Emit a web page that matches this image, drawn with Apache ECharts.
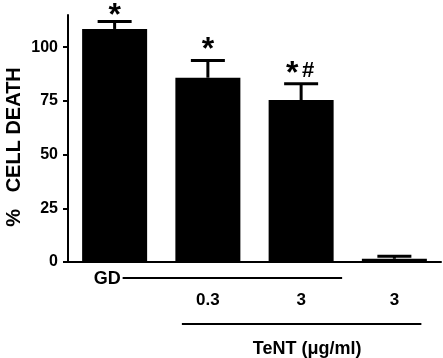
<!DOCTYPE html>
<html>
<head>
<meta charset="utf-8">
<script src="https://cdn.jsdelivr.net/npm/echarts@6/dist/echarts.min.js"></script>
<style>
  html, body { margin: 0; padding: 0; background: #fff; }
  #chart { width: 443px; height: 358px; }
</style>
</head>
<body>
<div id="chart"></div>
<script>
// values
var tickLabels = ['', '0.3', '3', '3']
var cellDeath = [108.5, 85.8, 75.4, 1.5]
var semErr = [3.5, 8.0, 7.6, 1.2]
var sigMarks = ['*', '*', '*#', '']
var yTicks = [0, 25, 50, 75, 100]

var font = 'Liberation Sans, Arial, sans-serif'
var chart = echarts.init(document.getElementById('chart'))

var errData = cellDeath.map(function (v, i) {
  return [i, v, v + semErr[i]]
})

chart.setOption({
  animation: false,
  grid: { left: 68, right: 2, top: 15, bottom: 96, outerBoundsMode: 'none' },
  xAxis: {
    type: 'category',
    data: tickLabels,
    axisLine: { lineStyle: { color: '#000', width: 2 } },
    axisTick: { show: false },
    axisLabel: {
      color: '#000', fontFamily: font, fontWeight: 'bold', fontSize: 17,
      margin: 30
    }
  },
  yAxis: {
    type: 'value',
    min: 0,
    max: 115,
    interval: 25,
    name: '%   CELL DEATH',
    nameLocation: 'middle',
    nameGap: 44,
    nameMoveOverlap: false,
    nameTextStyle: {
      color: '#000', fontFamily: font, fontWeight: 'bold', fontSize: 20,
      padding: [0, 17, 0, 0]
    },
    splitLine: { show: false },
    axisLine: { show: true, lineStyle: { color: '#000', width: 2 } },
    axisTick: { show: true, length: 5, customValues: yTicks, lineStyle: { width: 2 } },
    axisLabel: {
      color: '#000', fontFamily: font, fontWeight: 'bold', fontSize: 16,
      margin: 10, customValues: yTicks
    }
  },
  series: [
    {
      type: 'bar',
      data: cellDeath,
      barWidth: 65,
      itemStyle: { color: '#000' }
    },
    {
      type: 'custom',
      data: errData,
      z: 3,
      renderItem: function (params, api) {
        var lo = api.coord([api.value(0), api.value(1)])
        var hi = api.coord([api.value(0), api.value(2)])
        var half = 17
        var mark = sigMarks[params.dataIndex]
        var kids = [
          { type: 'line', shape: { x1: lo[0], y1: lo[1], x2: hi[0], y2: hi[1] },
            style: { stroke: '#000', lineWidth: 3 } },
          { type: 'line', shape: { x1: hi[0] - half, y1: hi[1], x2: hi[0] + half, y2: hi[1] },
            style: { stroke: '#000', lineWidth: 3 } }
        ]
        if (mark) {
          var hasHash = mark.indexOf('#') >= 0
          var cy = Math.max(hi[1] - 17, 9)
          kids.push({ type: 'text', x: hi[0] - (hasHash ? 9 : 0), y: cy + 7,
            style: { text: '*', fill: '#000', font: 'bold 32px ' + font,
              align: 'center', verticalAlign: 'middle' } })
          if (hasHash) {
            kids.push({ type: 'text', x: hi[0] + 7, y: cy + 4,
              style: { text: '#', fill: '#000', font: 'bold 22px ' + font,
                align: 'center', verticalAlign: 'middle' } })
          }
        }
        return { type: 'group', children: kids }
      }
    }
  ]
})

// group annotations under the x axis
var c0 = chart.convertToPixel({ xAxisIndex: 0 }, 0)
var c1 = chart.convertToPixel({ xAxisIndex: 0 }, 1)
var c2 = chart.convertToPixel({ xAxisIndex: 0 }, 2)
var c3 = chart.convertToPixel({ xAxisIndex: 0 }, 3)
var half = 33
chart.setOption({
  graphic: [
    { type: 'text', x: c0 + 6, y: 279,
      style: { text: 'GD', fill: '#000', font: 'bold 18px ' + font, align: 'right', verticalAlign: 'middle' } },
    { type: 'line', shape: { x1: c0 + 8, y1: 278, x2: c2 + half + 8, y2: 278 },
      style: { stroke: '#000', lineWidth: 2 } },
    { type: 'line', shape: { x1: c1 - half + 7, y1: 324, x2: c3 + half - 6, y2: 324 },
      style: { stroke: '#000', lineWidth: 2 } },
    { type: 'text', x: c2 + 6, y: 349,
      style: { text: 'TeNT (\u03bcg/ml)', fill: '#000', font: 'bold 18px ' + font, align: 'center', verticalAlign: 'middle' } }
  ]
})
</script>
</body>
</html>
